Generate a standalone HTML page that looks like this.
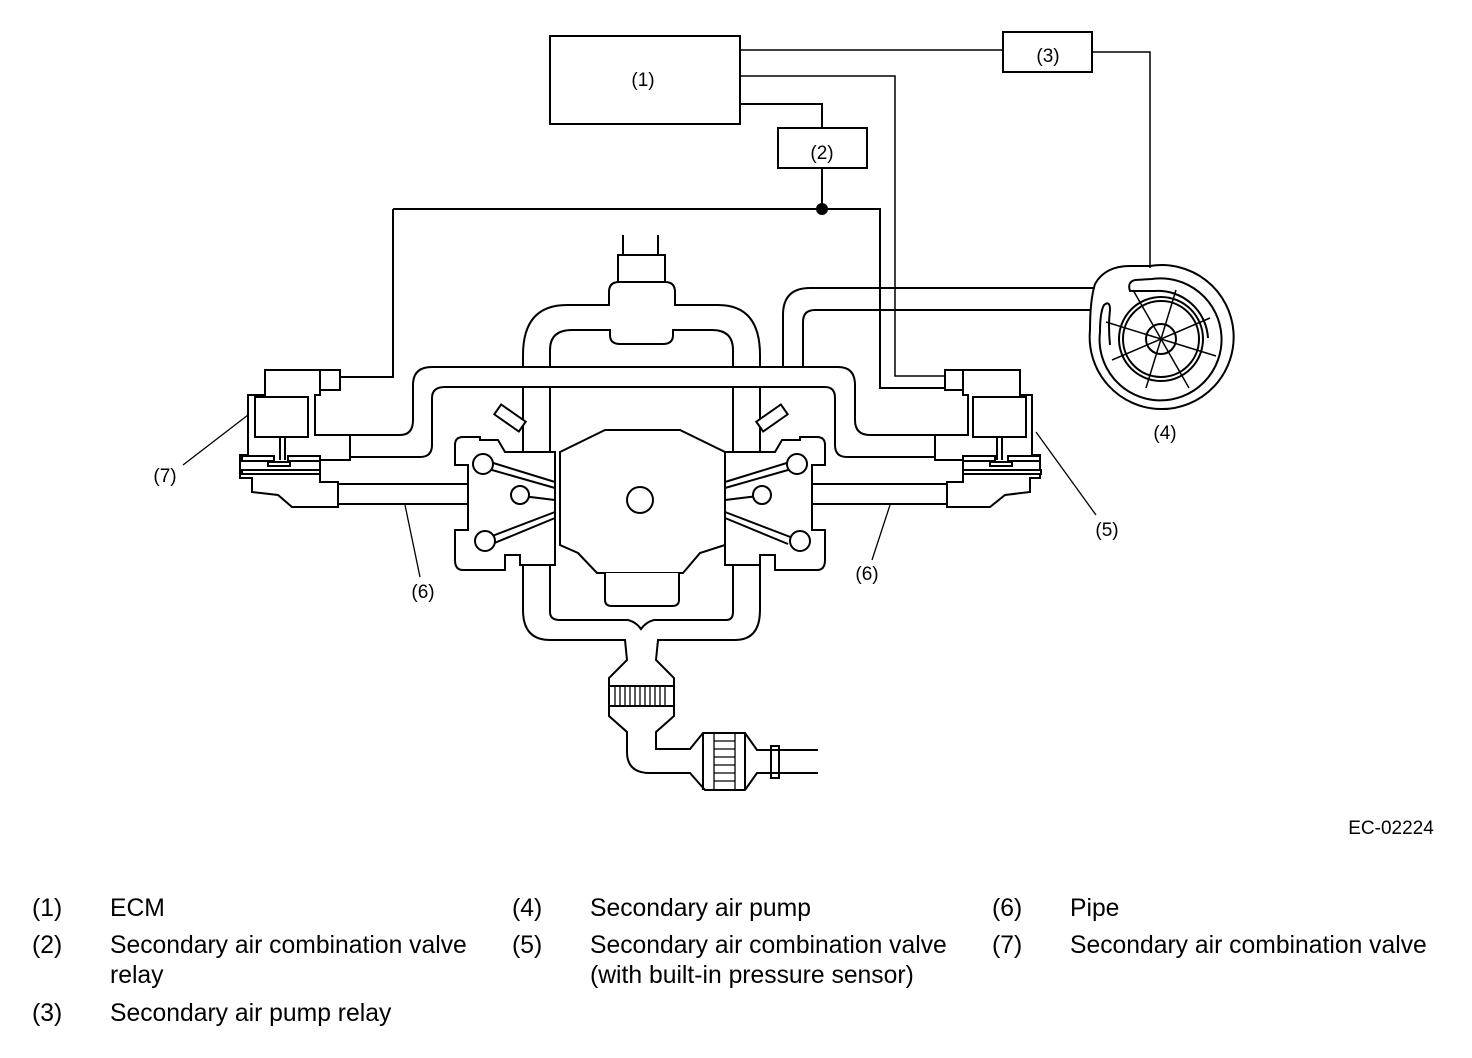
<!DOCTYPE html>
<html><head><style>
html,body{margin:0;padding:0;background:#fff;}
body{width:1472px;height:1058px;position:relative;overflow:hidden;font-family:"Liberation Sans",sans-serif;}
.t{position:absolute;font-size:24.7px;color:#000;line-height:30px;white-space:nowrap;}
</style></head><body>
<svg width="1472" height="1058" style="position:absolute;left:0;top:0" font-family="Liberation Sans, sans-serif">
<g fill="none" stroke="#000" stroke-width="2">
<rect x="550" y="36" width="190" height="88"/>
<rect x="1003" y="32" width="89" height="40"/>
<rect x="778" y="128" width="89" height="40"/>
<polyline points="740,50 1003,50" stroke-width="1.5"/>
<polyline points="1092,52 1150,52 1150,268" stroke-width="1.5"/>
<polyline points="740,76 895,76 895,376 945,376" stroke-width="1.5"/>
<polyline points="740,104 822,104 822,128"/>
<polyline points="822,168 822,209"/>
<polyline points="393,209 880,209 880,388 945,388"/>
<polyline points="393,209 393,377 340,377"/>
<circle cx="822" cy="209" r="5" fill="#000"/>
<path d="M1095,288 L810,288 Q783,288 783,315 L783,367"/>
<path d="M1090,310 L815,310 Q803,310 803,322 L803,367"/>
<path d="M350,435 L400,435 Q413,435 413,420 L413,385 Q413,367 432,367 L838,367 Q855,367 855,385 L855,420 Q855,435 870,435 L935,435"/>
<path d="M350,457 L420,457 Q432,457 432,445 L432,398 Q432,387 445,387 L825,387 Q835,387 835,398 L835,445 Q835,457 847,457 L935,457"/>
<line x1="338" y1="484" x2="515" y2="484"/>
<line x1="338" y1="504" x2="515" y2="504"/>
<line x1="770" y1="484" x2="947" y2="484"/>
<line x1="770" y1="504" x2="947" y2="504"/>
<line x1="623" y1="235" x2="623" y2="255"/><line x1="658" y1="235" x2="658" y2="255"/>
<rect x="618" y="255" width="47" height="27"/>
<path d="M523,367 L523,355 Q523,305 567,305 L609,305 L609,292 Q609,282 619,282 L665,282 Q675,282 675,292 L675,305 L718,305 Q760,305 760,355 L760,367"/>
<path d="M550,367 L550,350 Q550,330 572,330 L610,330 L610,335 Q610,344 620,344 L663,344 Q673,344 673,335 L673,330 L712,330 Q733,330 733,350 L733,367"/>
<path d="M523,387 L523,610 Q523,640 550,640 L625,640 L627,660 L609,678 L609,716 L627,732 L627,752 Q627,773 650,773 L690,773 L705,790 L745,790 L757,773 L818,773"/>
<path d="M760,387 L760,610 Q760,640 735,640 L658,640 L656,660 L674,678 L674,716 L656,732 L656,749 L690,749 L703,733 L745,733 L757,750 L818,750"/>
<path d="M550,387 L550,612 Q550,620 560,620 L628,620 Q636,622 641,629 Q646,622 654,620 L726,620 Q733,620 733,612 L733,387"/>
<line x1="609" y1="686" x2="674" y2="686"/><line x1="609" y1="706" x2="674" y2="706"/>
<line x1="703" y1="733" x2="703" y2="790"/><line x1="745" y1="733" x2="745" y2="790"/>
<rect x="771" y="746" width="8" height="32"/>
</g>
<g stroke="#000" stroke-width="1.3">
<line x1="615" y1="686" x2="615" y2="706"/><line x1="620" y1="686" x2="620" y2="706"/><line x1="625" y1="686" x2="625" y2="706"/><line x1="630" y1="686" x2="630" y2="706"/><line x1="635" y1="686" x2="635" y2="706"/><line x1="640" y1="686" x2="640" y2="706"/><line x1="645" y1="686" x2="645" y2="706"/><line x1="650" y1="686" x2="650" y2="706"/><line x1="655" y1="686" x2="655" y2="706"/><line x1="660" y1="686" x2="660" y2="706"/><line x1="665" y1="686" x2="665" y2="706"/>
<line x1="714" y1="741" x2="735" y2="741"/><line x1="714" y1="749" x2="735" y2="749"/><line x1="714" y1="757" x2="735" y2="757"/><line x1="714" y1="765" x2="735" y2="765"/><line x1="714" y1="773" x2="735" y2="773"/><line x1="714" y1="781" x2="735" y2="781"/>
<line x1="714" y1="733" x2="714" y2="790"/><line x1="735" y1="733" x2="735" y2="790"/>
</g>
<g fill="#fff" stroke="#000" stroke-width="2">
<path d="M455,445 Q455,437 463,437 L480,437 L480,440 L498,440 L505,452 L555,452 L555,565 L520,565 L520,555 L505,555 L505,570 L463,570 Q455,570 455,560 L455,530 L468,530 L468,465 L455,465 Z"/>
<path d="M825,445 Q825,437 817,437 L800,437 L800,440 L782,440 L775,452 L725,452 L725,565 L760,565 L760,555 L775,555 L775,570 L817,570 Q825,570 825,560 L825,530 L812,530 L812,465 L825,465 Z"/>
<path d="M560,452 L605,430 L680,430 L725,452 L725,545 L700,553 L683,573 L597,573 L578,553 L560,545 Z"/>
<path d="M605,573 L605,600 Q605,606 612,606 L672,606 Q679,606 679,600 L679,573"/>
<circle cx="640" cy="500" r="13"/>
<line x1="485" y1="468" x2="555" y2="488"/><line x1="490" y1="462" x2="555" y2="482"/>
<line x1="487" y1="538" x2="555" y2="512"/><line x1="492" y1="544" x2="555" y2="518"/>
<line x1="522" y1="496" x2="555" y2="500"/>
<line x1="795" y1="468" x2="725" y2="488"/><line x1="790" y1="462" x2="725" y2="482"/>
<line x1="793" y1="538" x2="725" y2="512"/><line x1="788" y1="544" x2="725" y2="518"/>
<line x1="758" y1="496" x2="725" y2="500"/>
<circle cx="483" cy="464" r="10"/><circle cx="520" cy="495" r="9"/><circle cx="485" cy="541" r="10"/>
<circle cx="797" cy="464" r="10"/><circle cx="762" cy="495" r="9"/><circle cx="800" cy="541" r="10"/>
<rect x="495" y="412" width="30" height="12" transform="rotate(35 510 418)"/>
<rect x="757" y="412" width="30" height="12" transform="rotate(-35 772 418)"/>
<path d="M248,395 L265,395 L265,370 L320,370 L320,395 L315,395 L315,435 L350,435 L350,460 L320,460 L320,482 L338,482 L338,507 L292,507 L278,495 L252,492 L252,478 L240,478 L240,455 L248,455 Z"/>
<rect x="320" y="370" width="20" height="20"/>
<rect x="255" y="397" width="53" height="40"/>
<line x1="280" y1="437" x2="280" y2="460"/><line x1="285" y1="437" x2="285" y2="460"/>
<rect x="242" y="456" width="32" height="5"/><rect x="288" y="456" width="32" height="5"/>
<rect x="268" y="462" width="22" height="4"/>
<rect x="242" y="470" width="78" height="4"/>
<path d="M1032,395 L1020,395 L1020,370 L963,370 L963,395 L968,395 L968,435 L935,435 L935,460 L963,460 L963,482 L947,482 L947,507 L990,507 L1005,495 L1030,492 L1030,478 L1040,478 L1040,455 L1032,455 Z"/>
<rect x="945" y="370" width="18" height="20"/>
<rect x="973" y="397" width="53" height="40"/>
<line x1="997" y1="437" x2="997" y2="460"/><line x1="1002" y1="437" x2="1002" y2="460"/>
<rect x="963" y="456" width="32" height="5"/><rect x="1008" y="456" width="32" height="5"/>
<rect x="990" y="462" width="22" height="4"/>
<rect x="963" y="470" width="78" height="4"/>
</g>
<g fill="none" stroke="#000" stroke-width="2">
<path d="M1095,284 Q1105,266 1130,266 L1150,266 A72,72 0 1 1 1090,330 Q1090,300 1095,284"/>
<path d="M1135,280 L1152,279 A61,61 0 1 1 1100,332 Q1100,312 1104,305 Q1110,300 1110,310 Q1108,325 1110,345"/>
<path d="M1135,280 Q1127,282 1130,291 L1155,291 A50,50 0 0 1 1208,338"/>
<circle cx="1161" cy="339" r="42"/><circle cx="1161" cy="339" r="38"/><circle cx="1161" cy="339" r="15"/>
<g stroke-width="1.5">
<line x1="1133" y1="290" x2="1189" y2="388"/><line x1="1176" y1="290" x2="1146" y2="388"/>
<line x1="1106" y1="322" x2="1216" y2="356"/><line x1="1112" y1="360" x2="1210" y2="318"/>
</g>
</g>
<g stroke="#000" stroke-width="1.3">
<line x1="183" y1="465" x2="248" y2="415"/>
<line x1="1036" y1="432" x2="1096" y2="515"/>
<line x1="405" y1="505" x2="420" y2="577"/>
<line x1="890" y1="505" x2="872" y2="560"/>
</g>
<g font-size="19" fill="#000" text-anchor="middle">
<text x="643" y="86">(1)</text><text x="1048" y="62">(3)</text><text x="822" y="159">(2)</text>
<text x="165" y="482">(7)</text><text x="1107" y="536">(5)</text><text x="1165" y="439">(4)</text>
<text x="423" y="598">(6)</text><text x="867" y="580">(6)</text>
<text x="1391" y="834">EC-02224</text>
</g>
</svg>
<div class="t" style="left:32px;top:894px">(1)</div><div class="t" style="left:110px;top:894px">ECM</div>
<div class="t" style="left:32px;top:931px">(2)</div><div class="t" style="left:110px;top:931px">Secondary air combination valve<br>relay</div>
<div class="t" style="left:32px;top:999px">(3)</div><div class="t" style="left:110px;top:999px">Secondary air pump relay</div>
<div class="t" style="left:512px;top:894px">(4)</div><div class="t" style="left:590px;top:894px">Secondary air pump</div>
<div class="t" style="left:512px;top:931px">(5)</div><div class="t" style="left:590px;top:931px">Secondary air combination valve<br>(with built-in pressure sensor)</div>
<div class="t" style="left:992px;top:894px">(6)</div><div class="t" style="left:1070px;top:894px">Pipe</div>
<div class="t" style="left:992px;top:931px">(7)</div><div class="t" style="left:1070px;top:931px">Secondary air combination valve</div>
</body></html>
